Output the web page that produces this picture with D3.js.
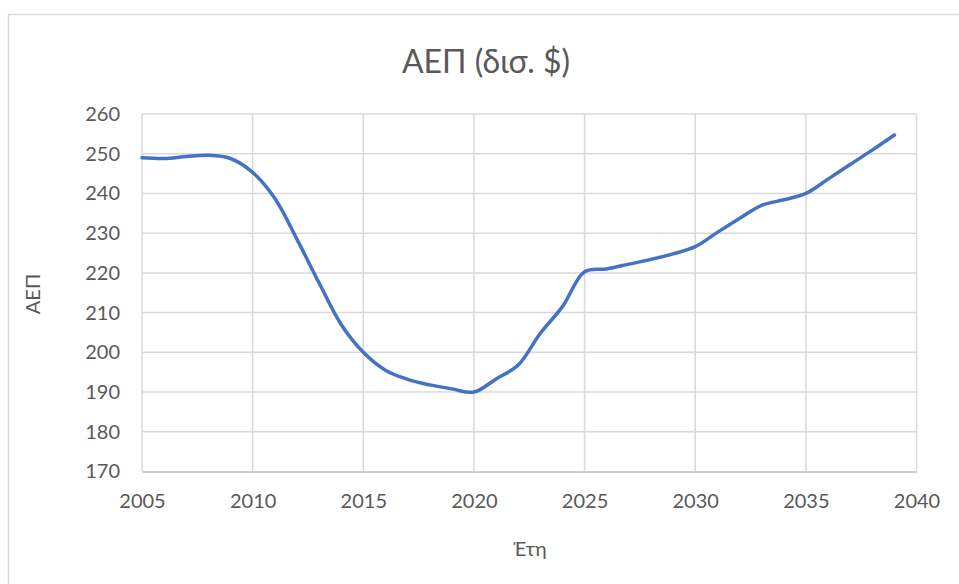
<!doctype html>
<html lang="el">
  <head>
    <meta charset="UTF-8" />
    <title>ΑΕΠ (δισ. $)</title>
    <script src="https://d3js.org/d3.v7.min.js"></script>
    <style>
      html, body { margin: 0; padding: 0; background: #fff; }
      svg { display: block; font-family: Lato, "Open Sans", sans-serif; }
    </style>
  </head>
  <body>
    <svg id="chart" width="959" height="584"></svg>
    <script>
      // data
      const years = [2005, 2006, 2007, 2008, 2009, 2010, 2011, 2012, 2013, 2014,
                     2015, 2016, 2017, 2018, 2019, 2020, 2021, 2022, 2023, 2024,
                     2025, 2026, 2027, 2028, 2029, 2030, 2031, 2032, 2033, 2034,
                     2035, 2036, 2037, 2038, 2039];
      const gdp = [249.0, 248.8, 249.3, 249.6, 248.8, 245.3, 238.8, 228.5, 217.5, 207.0,
                   200.0, 195.5, 193.2, 191.8, 190.8, 190.0, 193.3, 196.8, 204.8, 211.5,
                   220.3, 221.0, 222.2, 223.4, 224.8, 226.6, 230.2, 233.7, 237.0, 238.4,
                   240.0, 243.6, 247.3, 250.9, 254.7];
      const xTicks = [2005, 2010, 2015, 2020, 2025, 2030, 2035, 2040];
      const yTicks = [170, 180, 190, 200, 210, 220, 230, 240, 250, 260];

      const svg = d3.select("#chart");
      const plotLeft = 142, plotRight = 916.5, plotTop = 114, plotBottom = 471.5;

      // outer chart frame (runs off the right and bottom of the window)
      svg.append("rect")
        .attr("x", 8.5).attr("y", 14.5)
        .attr("width", 1000).attr("height", 700)
        .attr("fill", "#fff")
        .attr("stroke", "#d9d9d9")
        .attr("stroke-width", 1.5);

      const x = d3.scaleLinear().domain([2005, 2040]).range([plotLeft, plotRight]);
      const y = d3.scaleLinear().domain([170, 260]).range([plotBottom, plotTop]);

      // grid
      svg.append("g")
        .selectAll("line")
        .data(yTicks.slice(1))
        .join("line")
        .attr("x1", plotLeft).attr("x2", plotRight)
        .attr("y1", d => y(d)).attr("y2", d => y(d))
        .attr("stroke", "#d9d9d9").attr("stroke-width", 1.5);

      svg.append("g")
        .selectAll("line")
        .data(xTicks)
        .join("line")
        .attr("x1", d => x(d)).attr("x2", d => x(d))
        .attr("y1", plotTop).attr("y2", plotBottom)
        .attr("stroke", "#d9d9d9").attr("stroke-width", 1.5);

      // x axis
      const xAxis = svg.append("g")
        .attr("transform", `translate(0,${plotBottom})`)
        .call(d3.axisBottom(x).tickValues(xTicks).tickFormat(d3.format("d")).tickSize(0).tickPadding(22));
      xAxis.select(".domain").attr("stroke", "#bfbfbf").attr("stroke-width", 1.5);
      xAxis.selectAll("text").attr("font-size", 20).attr("fill", "#595959").attr("font-family", "Lato");

      // y axis
      const yAxis = svg.append("g")
        .attr("transform", `translate(${plotLeft},0)`)
        .call(d3.axisLeft(y).tickValues(yTicks).tickSize(0).tickPadding(22));
      yAxis.select(".domain").remove();
      yAxis.selectAll("text").attr("font-size", 20).attr("fill", "#595959").attr("font-family", "Lato");

      // line
      const line = d3.line()
        .x((d, i) => x(years[i]))
        .y(d => y(d))
        .curve(d3.curveCatmullRom.alpha(0.5));

      svg.append("path")
        .datum(gdp)
        .attr("d", line)
        .attr("fill", "none")
        .attr("stroke", "#4472c4")
        .attr("stroke-width", 3.5)
        .attr("stroke-linecap", "round");

      // titles
      svg.append("text")
        .attr("x", 486).attr("y", 73)
        .attr("text-anchor", "middle")
        .attr("font-size", 32)
        .attr("fill", "#595959")
        .text("ΑΕΠ (δισ. $)");

      svg.append("text")
        .attr("x", 530).attr("y", 556)
        .attr("text-anchor", "middle")
        .attr("font-size", 20)
        .attr("fill", "#595959")
        .text("Έτη");

      svg.append("text")
        .attr("transform", "translate(40,294) rotate(-90)")
        .attr("text-anchor", "middle")
        .attr("font-size", 20)
        .attr("fill", "#595959")
        .text("ΑΕΠ");
    </script>
  </body>
</html>
